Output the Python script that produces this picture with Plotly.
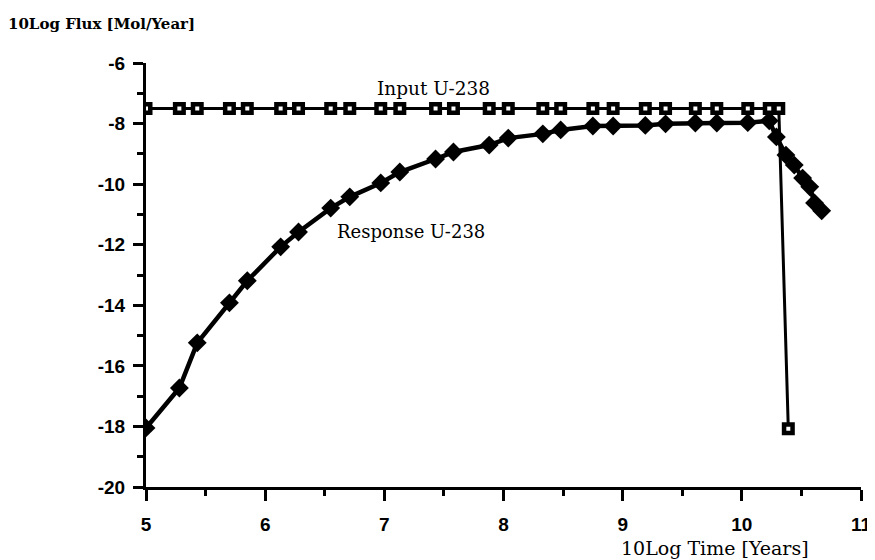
import plotly.graph_objects as go

# Input U-238 (10log time [years], 10log flux [mol/year])
input_time = [5.00, 5.28, 5.43, 5.70, 5.85, 6.13, 6.28, 6.55, 6.71, 6.97, 7.13,
              7.43, 7.58, 7.88, 8.04, 8.33, 8.48, 8.75, 8.92, 9.19, 9.36, 9.61,
              9.79, 10.05, 10.23, 10.31, 10.39]
input_flux = [-7.5] * 26 + [-18.08]

# Response U-238
response_time = [5.00, 5.28, 5.43, 5.70, 5.85, 6.13, 6.28, 6.55, 6.71, 6.97, 7.13,
                 7.43, 7.58, 7.88, 8.04, 8.33, 8.48, 8.75, 8.92, 9.19, 9.36, 9.61,
                 9.79, 10.05, 10.23, 10.29, 10.37, 10.44, 10.51, 10.57, 10.61, 10.67]
response_flux = [-18.05, -16.73, -15.24, -13.92, -13.19, -12.07, -11.58, -10.79,
                 -10.42, -9.96, -9.60, -9.17, -8.94, -8.71, -8.48, -8.34, -8.21,
                 -8.08, -8.08, -8.06, -8.01, -7.98, -7.98, -7.97, -7.91,
                 -8.44, -9.04, -9.37, -9.80, -10.09, -10.62, -10.88]

x_ticks = [5, 6, 7, 8, 9, 10, 11]
y_ticks = [-6, -8, -10, -12, -14, -16, -18, -20]

fig = go.Figure()
fig.add_trace(go.Scatter(
    x=response_time, y=response_flux, mode="lines+markers",
    line=dict(color="black", width=4.5),
    marker=dict(symbol="diamond", size=14.5, color="black"),
    name="Response U-238", showlegend=False))
fig.add_trace(go.Scatter(
    x=input_time, y=input_flux, mode="lines+markers",
    line=dict(color="black", width=3),
    marker=dict(symbol="square", size=8.5, color="white",
                line=dict(color="black", width=4.5)),
    name="Input U-238", showlegend=False))

axis_common = dict(
    showgrid=False, zeroline=False, showline=True, linecolor="black",
    linewidth=3, ticks="outside", tickcolor="black", tickwidth=3,
    tickfont=dict(family="Liberation Sans", size=19, color="black", weight="bold"),
)
fig.update_xaxes(range=[5, 11], tickvals=x_ticks, ticktext=[str(v) for v in x_ticks],
                 ticklen=11, ticklabelstandoff=7,
                 minor=dict(dtick=0.5, tick0=5, ticks="outside", ticklen=6,
                            tickwidth=3, tickcolor="black"),
                 **axis_common)
fig.update_yaxes(range=[-20, -6], tickvals=y_ticks, ticktext=[str(v) for v in y_ticks],
                 ticklen=10, ticklabelstandoff=4,
                 minor=dict(dtick=1, tick0=-20, ticks="outside", ticklen=6,
                            tickwidth=3, tickcolor="black"),
                 **axis_common)

serif = "DejaVu Serif"
fig.add_annotation(text="Input U-238", x=7.415, y=-6.83, xref="x", yref="y",
                   showarrow=False, font=dict(family=serif, size=18.5, color="black"))
fig.add_annotation(text="Response U-238", x=7.22, y=-11.58, xref="x", yref="y",
                   showarrow=False, font=dict(family=serif, size=18, color="black"))
fig.add_annotation(text="10Log Flux [Mol/Year]", x=-0.196, y=1.093, xref="paper",
                   yref="paper", xanchor="left", yanchor="middle", showarrow=False,
                   font=dict(family=serif, size=15, color="black", weight="bold"))
fig.add_annotation(text="10Log Time [Years]", x=0.796, y=-0.144, xref="paper",
                   yref="paper", xanchor="center", yanchor="middle", showarrow=False,
                   font=dict(family=serif, size=19, color="black"))

fig.update_layout(
    width=875, height=560,
    margin=dict(l=138, r=15, t=55, b=81),
    paper_bgcolor="white", plot_bgcolor="white",
)

fig.write_html("out.html")
